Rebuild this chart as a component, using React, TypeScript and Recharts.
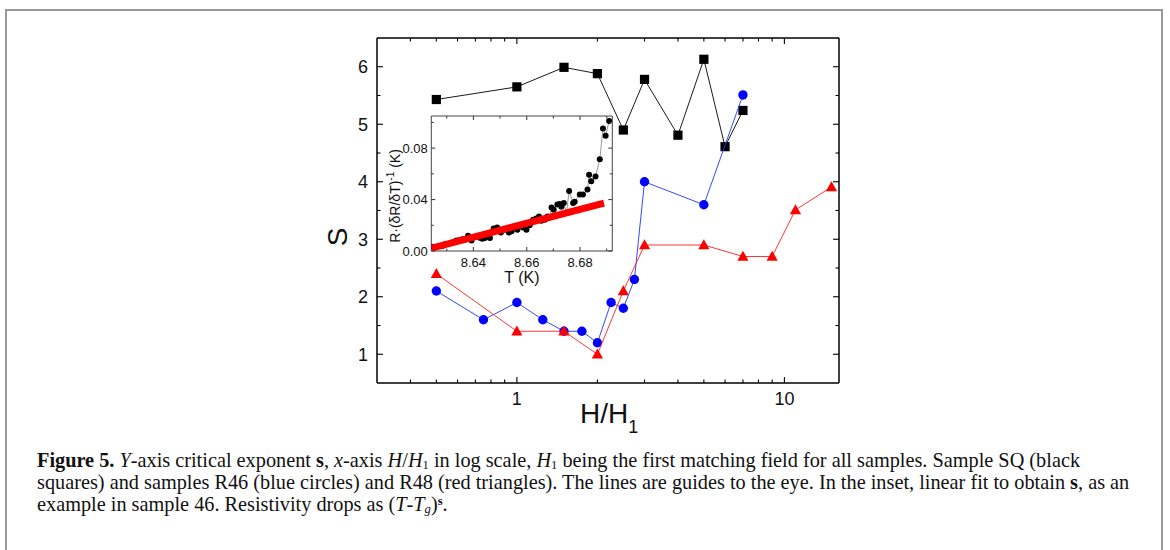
import { ComposedChart, Scatter, XAxis, YAxis } from 'recharts'

// main panel: exponent s vs H/H1 (log x)
const sqH = [0.5, 1, 1.5, 2, 2.5, 3, 4, 5, 6, 7]
const sqS = [5.43, 5.65, 5.99, 5.88, 4.9, 5.78, 4.81, 6.13, 4.61, 5.24]
const r46H = [0.5, 0.75, 1, 1.25, 1.5, 1.75, 2, 2.25, 2.5, 2.75, 3, 5, 7]
const r46S = [2.1, 1.6, 1.9, 1.6, 1.4, 1.4, 1.2, 1.9, 1.8, 2.3, 4.0, 3.6, 5.51]
const r48H = [0.5, 1, 1.5, 2, 2.5, 3, 5, 7, 9, 11, 15]
const r48S = [2.4, 1.4, 1.4, 1.0, 2.1, 2.9, 2.9, 2.7, 2.7, 3.51, 3.91]

// inset: R/(dR/dT) vs T, sample 46
const insetT = [
  8.6249, 8.6283, 8.6293, 8.6318, 8.6336, 8.6349, 8.6359, 8.638, 8.6393, 8.6424,
  8.6433, 8.6443, 8.6462, 8.6476, 8.6489, 8.6503, 8.6515, 8.6524, 8.6533, 8.6543,
  8.6555, 8.6565, 8.6574, 8.6586, 8.6599, 8.6611, 8.6624, 8.6636, 8.6646, 8.6655,
  8.6668, 8.6678, 8.6686, 8.6693, 8.6701, 8.6715, 8.6724, 8.673, 8.6739, 8.6749,
  8.6759, 8.6774, 8.678, 8.6799, 8.6811, 8.6828, 8.6834, 8.6842, 8.6858, 8.6874,
  8.6886, 8.6896, 8.6909,
]
const insetV = [
  0.0034, 0.0039, 0.0052, 0.0065, 0.0081, 0.0086, 0.0091, 0.0118, 0.0081, 0.0104,
  0.0096, 0.0102, 0.0102, 0.0175, 0.0183, 0.0143, 0.0165, 0.0169, 0.0143, 0.0154,
  0.0183, 0.0165, 0.0201, 0.0183, 0.0165, 0.0201, 0.0243, 0.0253, 0.0269, 0.0235,
  0.0243, 0.0269, 0.0261, 0.0339, 0.0321, 0.0361, 0.0366, 0.0345, 0.0373, 0.0295,
  0.0467, 0.0373, 0.0384, 0.0439, 0.0439, 0.0478, 0.0593, 0.0543, 0.058, 0.0713,
  0.0953, 0.0896, 0.1011,
]
const fitT = [8.6242, 8.689]
const fitV = [0.0022, 0.0373]

const hTicks = [0.4, 0.5, 0.6, 0.7, 0.8, 0.9, 1, 2, 3, 4, 5, 6, 7, 8, 9, 10]
const hMajors = [1, 10]
const sTicks = [1, 1.5, 2, 2.5, 3, 3.5, 4, 4.5, 5, 5.5, 6]
const sMajors = [1, 2, 3, 4, 5, 6]
const tTicks = [8.63, 8.64, 8.65, 8.66, 8.67, 8.68, 8.69]
const tMajors = [8.64, 8.66, 8.68]
const vTicks = [0, 0.02, 0.04, 0.06, 0.08, 0.1]
const vMajors = [0, 0.04, 0.08]

const pts = (xs: number[], ys: number[]) => xs.map((x, i) => ({ x, y: ys[i] }))

const SANS = '"Liberation Sans", Arial, sans-serif'

type Side = 'left' | 'right' | 'top' | 'bottom'

// inward tick marks, labels only on majors
function makeTick(
  side: Side,
  majors: number[],
  majorLen: number,
  minorLen: number,
  color: string,
  label?: { fmt: (v: number) => string; gap: number; size: number },
) {
  return function TickMark(props: any) {
    const { x, y, payload } = props
    const v = Number(payload.value)
    const isMajor = majors.some((m) => Math.abs(m - v) < 1e-9)
    const len = isMajor ? majorLen : minorLen
    const dx = side === 'left' ? len : side === 'right' ? -len : 0
    const dy = side === 'bottom' ? -len : side === 'top' ? len : 0
    let text = null
    if (label && isMajor) {
      const cap = label.size * 0.716
      if (side === 'left')
        text = (
          <text x={x - label.gap} y={y + cap / 2} textAnchor="end" fontSize={label.size} fontFamily={SANS} fill="#111">
            {label.fmt(v)}
          </text>
        )
      if (side === 'bottom')
        text = (
          <text x={x} y={y + label.gap + cap} textAnchor="middle" fontSize={label.size} fontFamily={SANS} fill="#111">
            {label.fmt(v)}
          </text>
        )
    }
    return (
      <g>
        <line x1={x} y1={y} x2={x + dx} y2={y + dy} stroke={color} strokeWidth={1.1} />
        {text}
      </g>
    )
  }
}

const mainBottom = makeTick('bottom', hMajors, 6, 3.5, '#000', { fmt: (v) => String(v), gap: 9.5, size: 18 })
const mainTop = makeTick('top', hMajors, 6, 3.5, '#000')
const mainLeft = makeTick('left', sMajors, 6, 3.5, '#000', { fmt: (v) => String(v), gap: 9, size: 18 })
const mainRight = makeTick('right', sMajors, 6, 3.5, '#000')
const inBottom = makeTick('bottom', tMajors, 4, 2.5, '#444', { fmt: (v) => v.toFixed(2), gap: 7, size: 13 })
const inTop = makeTick('top', tMajors, 4, 2.5, '#444')
const inLeft = makeTick('left', vMajors, 4, 2.5, '#444', { fmt: (v) => v.toFixed(2), gap: 3.5, size: 13 })
const inRight = makeTick('right', vMajors, 4, 2.5, '#444')

const Square = (p: any) => <rect x={p.cx - 4.6} y={p.cy - 4.6} width={9.2} height={9.2} fill="#000" />
const Dot = (p: any) => <circle cx={p.cx} cy={p.cy} r={4.7} fill="#0000ff" />
const Tri = (p: any) => (
  <polygon points={`${p.cx},${p.cy - 5.8} ${p.cx + 5.6},${p.cy + 4.2} ${p.cx - 5.6},${p.cy + 4.2}`} fill="#ff0000" />
)
const SmallDot = (p: any) => <circle cx={p.cx} cy={p.cy} r={3} fill="#000" />
const NoDot = () => <g />

const mainAxisLine = { stroke: '#000', strokeWidth: 1.5 }
const inAxisLine = { stroke: '#444', strokeWidth: 1 }

function MainChart() {
  return (
    <ComposedChart width={1170} height={550} margin={{ top: 28, right: 321, bottom: 137, left: 337 }}>
      <XAxis
        dataKey="x"
        type="number"
        scale="log"
        domain={[0.3, 16]}
        allowDataOverflow
        ticks={hTicks}
        interval={0}
        tickSize={0}
        tickMargin={0}
        tickLine={false}
        axisLine={mainAxisLine}
        tick={mainBottom}
        height={30}
      />
      <XAxis
        xAxisId="t"
        orientation="top"
        dataKey="x"
        type="number"
        scale="log"
        domain={[0.3, 16]}
        allowDataOverflow
        ticks={hTicks}
        interval={0}
        tickSize={0}
        tickMargin={0}
        tickLine={false}
        axisLine={mainAxisLine}
        tick={mainTop}
        height={10}
      />
      <YAxis
        dataKey="y"
        type="number"
        domain={[0.5, 6.5]}
        allowDataOverflow
        ticks={sTicks}
        interval={0}
        tickSize={0}
        tickMargin={0}
        tickLine={false}
        axisLine={mainAxisLine}
        tick={mainLeft}
        width={40}
      />
      <YAxis
        yAxisId="r"
        orientation="right"
        dataKey="y"
        type="number"
        domain={[0.5, 6.5]}
        allowDataOverflow
        ticks={sTicks}
        interval={0}
        tickSize={0}
        tickMargin={0}
        tickLine={false}
        axisLine={mainAxisLine}
        tick={mainRight}
        width={10}
      />
      <Scatter
        data={pts(sqH, sqS)}
        line={{ stroke: '#000', strokeWidth: 0.9 }}
        lineType="joint"
        shape={Square}
        isAnimationActive={false}
      />
      <Scatter
        data={pts(r46H, r46S)}
        line={{ stroke: '#2233ff', strokeWidth: 0.9 }}
        lineType="joint"
        shape={Dot}
        isAnimationActive={false}
      />
      <Scatter
        data={pts(r48H, r48S)}
        line={{ stroke: '#ff2020', strokeWidth: 0.9 }}
        lineType="joint"
        shape={Tri}
        isAnimationActive={false}
      />
    </ComposedChart>
  )
}

function InsetChart() {
  return (
    <ComposedChart width={1170} height={550} margin={{ top: 111, right: 552.7, bottom: 279, left: 401.3 }}>
      <XAxis
        dataKey="x"
        type="number"
        domain={[8.6242, 8.6921]}
        allowDataOverflow
        ticks={tTicks}
        interval={0}
        tickSize={0}
        tickMargin={0}
        tickLine={false}
        axisLine={inAxisLine}
        tick={inBottom}
        height={20}
      />
      <XAxis
        xAxisId="t"
        orientation="top"
        dataKey="x"
        type="number"
        domain={[8.6242, 8.6921]}
        allowDataOverflow
        ticks={tTicks}
        interval={0}
        tickSize={0}
        tickMargin={0}
        tickLine={false}
        axisLine={inAxisLine}
        tick={inTop}
        height={5}
      />
      <YAxis
        dataKey="y"
        type="number"
        domain={[0, 0.105]}
        allowDataOverflow
        ticks={vTicks}
        interval={0}
        tickSize={0}
        tickMargin={0}
        tickLine={false}
        axisLine={inAxisLine}
        tick={inLeft}
        width={30}
      />
      <YAxis
        yAxisId="r"
        orientation="right"
        dataKey="y"
        type="number"
        domain={[0, 0.105]}
        allowDataOverflow
        ticks={vTicks}
        interval={0}
        tickSize={0}
        tickMargin={0}
        tickLine={false}
        axisLine={inAxisLine}
        tick={inRight}
        width={5}
      />
      <Scatter
        data={pts(insetT, insetV)}
        line={{ stroke: '#999', strokeWidth: 1 }}
        lineType="joint"
        shape={SmallDot}
        isAnimationActive={false}
      />
      <Scatter
        data={pts(fitT, fitV)}
        line={{ stroke: '#ff0000', strokeWidth: 7 }}
        lineType="joint"
        shape={NoDot}
        isAnimationActive={false}
      />
    </ComposedChart>
  )
}

const sub = { fontSize: '0.62em', verticalAlign: '-0.15em', lineHeight: 0 }
const sup = { fontSize: '0.62em', verticalAlign: '0.45em', lineHeight: 0 }

export default function App() {
  return (
    <div style={{ position: 'absolute', left: 0, top: 0, width: 1170, height: 550, overflow: 'hidden', background: '#fff' }}>
      <div
        style={{
          position: 'absolute',
          left: 5,
          top: 9,
          width: 1158,
          height: 600,
          boxSizing: 'border-box',
          border: '2px solid #9a9a9a',
        }}
      />
      <div style={{ position: 'absolute', left: 0, top: 0 }}>
        <MainChart />
      </div>
      <div style={{ position: 'absolute', left: 0, top: 0 }}>
        <InsetChart />
      </div>
      <svg width={1170} height={550} style={{ position: 'absolute', left: 0, top: 0 }}>
        <text x={347} y={237} transform="rotate(-90 347 237)" textAnchor="middle" fontSize={28} fontFamily={SANS} fill="#111">
          S
        </text>
        <text x={580} y={423} fontSize={28} fontFamily={SANS} fill="#111">
          H/H<tspan fontSize={18} dy={10}>1</tspan>
        </text>
        <text x={522} y={283} textAnchor="middle" fontSize={16} fontFamily={SANS} fill="#111">
          T (K)
        </text>
        <text x={400} y={196} transform="rotate(-90 400 196)" textAnchor="middle" fontSize={14} fontFamily={SANS} fill="#111">
          R·(δR/δT)<tspan fontSize={10} dy={-6}>-1</tspan>
          <tspan dy={6}> (K)</tspan>
        </text>
      </svg>
      <div
        style={{
          position: 'absolute',
          left: 37,
          top: 449,
          fontFamily: '"Liberation Serif", serif',
          fontSize: 20.3,
          lineHeight: '22px',
          color: '#111',
          whiteSpace: 'nowrap',
        }}
      >
        <b>Figure 5.</b> <i>Y</i>-axis critical exponent <b>s</b>, <i>x</i>-axis <i>H</i>/<i>H</i>
        <span style={sub}>1</span> in log scale, <i>H</i>
        <span style={sub}>1</span> being the first matching field for all samples. Sample SQ (black
        <br />
        squares) and samples R46 (blue circles) and R48 (red triangles). The lines are guides to the eye. In the inset,
        linear fit to obtain <b>s</b>, as an
        <br />
        example in sample 46. Resistivity drops as (<i>T</i>-<i>T</i>
        <span style={sub}>
          <i>g</i>
        </span>
        )<span style={sup}><b>s</b></span>.
      </div>
    </div>
  )
}
